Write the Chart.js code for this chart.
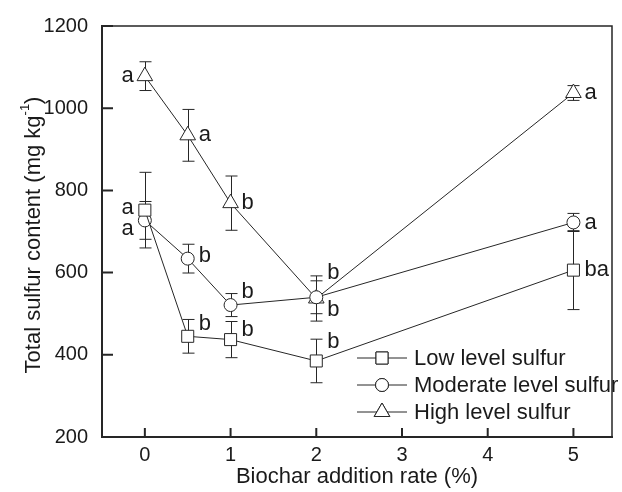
<!DOCTYPE html>
<html>
<head>
<meta charset="utf-8">
<script src="https://cdn.jsdelivr.net/npm/chart.js@4.4.1/dist/chart.umd.min.js"></script>
<style>
  html, body { margin: 0; background: #fff; }
  #wrap { width: 622px; height: 492px; }
</style>
</head>
<body>
<div id="wrap"><canvas id="sulfurChart"></canvas></div>
<script>
// biochar addition rate (%)
const xValues = [0, 0.5, 1, 2, 5];
const xTickValues = [0, 1, 2, 3, 4, 5];
const yTickValues = [200, 400, 600, 800, 1000, 1200];

const seriesNames = ['Low level sulfur', 'Moderate level sulfur', 'High level sulfur'];
const lowMeans = [752, 445, 437, 385, 606];
const lowErrors = [92, 41, 44, 53, 96];
const moderateMeans = [727, 634, 521, 540, 722];
const moderateErrors = [46, 35, 28, 40, 22];
const highMeans = [1078, 934, 769, 537, 1037];
const highErrors = [35, 63, 66, 55, 18];

const lowLetters = ['a', 'b', 'b', 'b', 'ba'];
const moderateLetters = ['a', 'b', 'b', 'b', 'a'];
const highLetters = ['a', 'a', 'b', 'b', 'a'];

// where each letter sits next to its point: side and vertical shift (px)
const lowPlace = [['l', -2], ['r', -12], ['r', -10], ['r', -19], ['r', 0]];
const moderatePlace = [['l', 9], ['r', -3], ['r', -13], ['r', 13], ['r', 0]];
const highPlace = [['l', 0], ['r', 0], ['r', 0], ['r', -26], ['r', 0]];

const INK = '#262626';
const FONT = '"Liberation Sans", Arial, Helvetica, sans-serif';

const series = [
    { name: seriesNames[0], means: lowMeans, errors: lowErrors, letters: lowLetters, place: lowPlace, style: 'rect', radius: 8.5 },
    { name: seriesNames[1], means: moderateMeans, errors: moderateErrors, letters: moderateLetters, place: moderatePlace, style: 'circle', radius: 6.5 },
    { name: seriesNames[2], means: highMeans, errors: highErrors, letters: highLetters, place: highPlace, style: 'triangle', radius: 9 }
];

const errorBars = {
    id: 'errorBars',
    beforeDatasetsDraw(chart) {
        const { ctx, scales: { x, y } } = chart;
        ctx.save();
        ctx.strokeStyle = INK;
        ctx.lineWidth = 1;
        series.forEach(s => {
            s.means.forEach((m, i) => {
                const px = Math.round(x.getPixelForValue(xValues[i])) + 0.5;
                const top = y.getPixelForValue(m + s.errors[i]);
                const bot = y.getPixelForValue(m - s.errors[i]);
                ctx.beginPath();
                ctx.moveTo(px, top); ctx.lineTo(px, bot);
                ctx.moveTo(px - 6, top); ctx.lineTo(px + 6, top);
                ctx.moveTo(px - 6, bot); ctx.lineTo(px + 6, bot);
                ctx.stroke();
            });
        });
        ctx.restore();
    }
};

const frameAndText = {
    id: 'frameAndText',
    afterDraw(chart) {
        const { ctx, chartArea: a, scales: { x, y } } = chart;
        ctx.save();
        ctx.strokeStyle = INK;

        // top and right frame
        ctx.lineWidth = 1.5;
        ctx.beginPath();
        ctx.moveTo(a.left, a.top); ctx.lineTo(a.right, a.top); ctx.lineTo(a.right, a.bottom);
        ctx.stroke();

        // inward ticks
        ctx.lineWidth = 2;
        ctx.beginPath();
        yTickValues.forEach(v => {
            const py = y.getPixelForValue(v);
            ctx.moveTo(a.left, py); ctx.lineTo(a.left + 11, py);
        });
        xTickValues.forEach(v => {
            const px = x.getPixelForValue(v);
            ctx.moveTo(px, a.bottom); ctx.lineTo(px, a.bottom - 9);
        });
        ctx.stroke();

        // significance letters
        ctx.fillStyle = '#1a1a1a';
        ctx.font = '22px ' + FONT;
        ctx.textBaseline = 'middle';
        series.forEach(s => {
            s.letters.forEach((t, i) => {
                const px = x.getPixelForValue(xValues[i]);
                const py = y.getPixelForValue(s.means[i]) + s.place[i][1];
                if (s.place[i][0] === 'l') {
                    ctx.textAlign = 'right';
                    ctx.fillText(t, px - 11, py);
                } else {
                    ctx.textAlign = 'left';
                    ctx.fillText(t, px + 11, py);
                }
            });
        });

        // legend
        const lx = a.left + 255, ty = a.bottom - 79;
        ctx.textAlign = 'left';
        series.forEach((s, k) => {
            const ly = ty + k * 27;
            ctx.lineWidth = 1;
            ctx.beginPath();
            ctx.moveTo(lx, ly); ctx.lineTo(lx + 50, ly);
            ctx.stroke();
            ctx.fillStyle = '#fff';
            Chart.helpers.drawPoint(ctx, { pointStyle: s.style, radius: s.radius, borderWidth: 1 }, lx + 25, ly);
            ctx.fill();
            ctx.stroke();
            ctx.fillStyle = '#1a1a1a';
            ctx.fillText(s.name, lx + 57, ly + 1);
        });

        // axis titles
        ctx.textAlign = 'center';
        ctx.fillText('Biochar addition rate (%)', (a.left + a.right) / 2, 477);

        ctx.translate(34, 235);
        ctx.rotate(-Math.PI / 2);
        const main = 'Total sulfur content (mg kg';
        ctx.font = '22px ' + FONT;
        const wMain = ctx.measureText(main).width;
        const wClose = ctx.measureText(')').width;
        ctx.font = '13px ' + FONT;
        const wSup = ctx.measureText('-1').width;
        const sx = -(wMain + wSup + wClose) / 2;
        ctx.textAlign = 'left';
        ctx.font = '22px ' + FONT;
        ctx.fillText(main, sx, 0);
        ctx.font = '13px ' + FONT;
        ctx.fillText('-1', sx + wMain, -9);
        ctx.font = '22px ' + FONT;
        ctx.fillText(')', sx + wMain + wSup, 0);
        ctx.restore();
    }
};

new Chart(document.getElementById('sulfurChart'), {
    type: 'line',
    data: {
        datasets: series.map(s => ({
            label: s.name,
            data: s.means.map((m, i) => ({ x: xValues[i], y: m })),
            borderColor: INK,
            borderWidth: 1,
            backgroundColor: '#fff',
            pointStyle: s.style,
            pointRadius: s.radius,
            pointBorderColor: INK,
            pointBackgroundColor: '#fff',
            pointBorderWidth: 1,
            tension: 0
        }))
    },
    options: {
        responsive: true,
        maintainAspectRatio: false,
        animation: false,
        layout: { padding: { left: 0, top: 25, right: 4, bottom: 0 } },
        plugins: {
            legend: { display: false },
            tooltip: { enabled: false }
        },
        scales: {
            x: {
                type: 'linear',
                min: -0.5,
                max: 5.45,
                afterBuildTicks: scale => { scale.ticks = xTickValues.map(v => ({ value: v })); },
                afterFit: scale => { scale.height = 55; },
                grid: { display: false, drawTicks: false },
                border: { display: true, color: INK, width: 2 },
                ticks: { color: '#1a1a1a', font: { family: FONT, size: 20 }, padding: 6, maxRotation: 0, callback: v => String(v) }
            },
            y: {
                min: 200,
                max: 1200,
                afterBuildTicks: scale => { scale.ticks = yTickValues.map(v => ({ value: v })); },
                afterFit: scale => { scale.width = 102; },
                grid: { display: false, drawTicks: false },
                border: { display: true, color: INK, width: 2 },
                ticks: { color: '#1a1a1a', font: { family: FONT, size: 20 }, padding: 14, callback: v => String(v) }
            }
        }
    },
    plugins: [errorBars, frameAndText]
});
</script>
</body>
</html>
